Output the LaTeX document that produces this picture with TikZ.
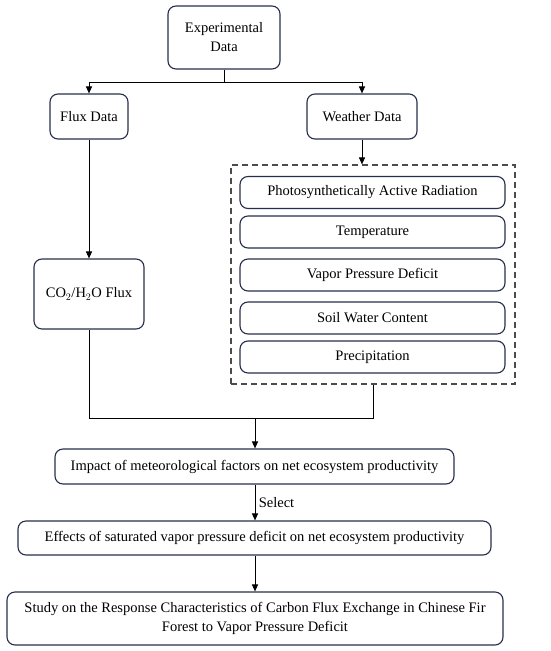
\documentclass[tikz,border=0pt]{standalone}
\usepackage{fontspec}
\setmainfont{Liberation Serif}
\usepackage{tikz}
\usetikzlibrary{positioning,calc,arrows.meta}
\definecolor{boxnavy}{rgb}{0.15, 0.18, 0.30}
\definecolor{dashgray}{rgb}{0.30, 0.30, 0.30}

\begin{document}
\begin{tikzpicture}[x=1pt,y=-1pt,
		box/.style={draw=boxnavy, line width=1.1pt, rounded corners=8pt, align=center, inner sep=2pt, font=\fontsize{14.5}{19}\selectfont},
		factor/.style={box, minimum width=265pt, minimum height=32pt},
		arr/.style={-{Triangle[length=7pt,width=6pt]}, line width=1pt},
		link/.style={line width=1pt}]
		
		\useasboundingbox (0,0) rectangle (550,651);
		
		\node[box, minimum width=112pt, minimum height=63pt] (exp) at (224,37.5) {Experimental\\Data};
		\node[box, minimum width=78pt, minimum height=45pt] (flux) at (89,116.5) {Flux Data};
		\node[box, minimum width=110pt, minimum height=45pt] (weather) at (362,116.5) {Weather Data};
		\node[box, minimum width=110pt, minimum height=70pt] (co2) at (89,294) {CO$_2$/H$_2$O Flux};
		
		% meteorological factors
		\node[draw=dashgray, dashed, dash pattern=on 6pt off 4pt, line width=1.1pt, minimum width=284pt, minimum height=219pt] (group) at (373,274.5) {};
		\node[factor] (par) at (372.5,192.5) {Photosynthetically Active Radiation};
		\node[factor] (temp) at (372.5,232) {Temperature};
		\node[factor] (vpd) at (372.5,275) {Vapor Pressure Deficit};
		\node[factor] (swc) at (372.5,318) {Soil Water Content};
		\node[factor] (prec) at (372.5,357) {Precipitation};
		
		\node[box, minimum width=399pt, minimum height=35pt] (impact) at (254.5,466.5) {Impact of meteorological factors on net ecosystem productivity};
		\node[box, minimum width=473pt, minimum height=34pt] (effects) at (254.5,538) {Effects of saturated vapor pressure deficit on net ecosystem productivity};
		\node[box, minimum width=496pt, minimum height=53pt] (study) at (255,618.5) {Study on the Response Characteristics of Carbon Flux Exchange in Chinese Fir\\Forest to Vapor Pressure Deficit};
		
		\coordinate (split) at (224,82);
		\coordinate (join) at (255,418);
		
		\draw[link] (exp) -- (split);
		\draw[arr] (split) -| (flux.north);
		\draw[arr] (split) -| (weather.north);
		\draw[arr] (weather.south) -- (weather.south |- group.north);
		\draw[arr] (flux) -- (co2);
		\draw[link] (co2.south) |- (join);
		\draw[link] (group.south) |- (join);
		\draw[arr] (join) -- (join |- impact.north);
		\draw[arr] (impact.south -| join) -- node[right, font=\fontsize{14.5}{19}\selectfont] {Select} (effects.north -| join);
		\draw[arr] (effects.south -| join) -- (study.north -| join);
\end{tikzpicture}
\end{document}
